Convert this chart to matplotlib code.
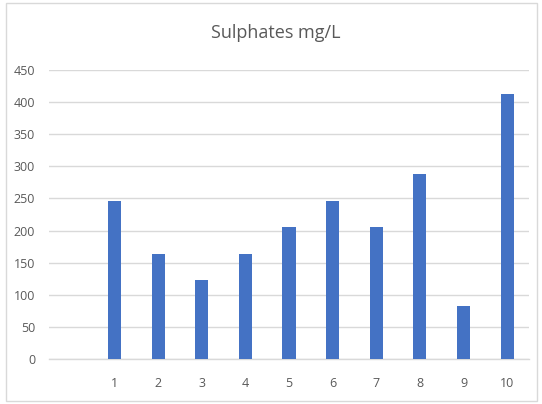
import matplotlib
matplotlib.use("Agg")
import matplotlib.pyplot as plt
from matplotlib.patches import Rectangle

categories = ["", "1", "2", "3", "4", "5", "6", "7", "8", "9", "10"]
values = [None, 246, 164, 123, 164, 205, 246, 205, 288, 82, 412]
yticks = [0, 50, 100, 150, 200, 250, 300, 350, 400, 450]
title = "Sulphates mg/L"

plt.rcParams['font.family'] = ['Open Sans', 'DejaVu Sans']

W, H = 542, 404
fig = plt.figure(figsize=(W / 100, H / 100), dpi=100)
fig.patch.set_facecolor("white")

# chart border
fig.add_artist(Rectangle((6 / W, 1 - 401 / H), (537 - 6) / W, (401 - 3) / H,
                         transform=fig.transFigure, fill=False,
                         edgecolor="#d9d9d9", linewidth=1))

ax = fig.add_axes([49 / W, 1 - 359 / H, (529 - 49) / W, (359 - 70) / H])

xs = list(range(len(categories)))
bx = [x for x, v in zip(xs, values) if v is not None]
bv = [v for v in values if v is not None]
ax.bar(bx, bv, width=0.3, color="#4472C4", zorder=3)

ax.set_xlim(-0.5, len(categories) - 0.5)
ax.set_ylim(0, 450)
ax.set_yticks(yticks)
ax.set_xticks(xs)
ax.set_xticklabels(categories)
ax.yaxis.grid(True, color="#d9d9d9", linewidth=1, zorder=0)
for s in ["top", "right", "left"]:
    ax.spines[s].set_visible(False)
ax.spines["bottom"].set_color("#d9d9d9")
ax.spines["bottom"].set_linewidth(1)
ax.tick_params(axis="both", length=0, colors="#595959", labelsize=9)
ax.tick_params(axis="y", pad=10)
ax.tick_params(axis="x", pad=13)

fig.text(276 / W, 1 - 33 / H, title, ha="center", va="center",
         fontsize=13, color="#595959")

fig.savefig("out.png", dpi=100)
